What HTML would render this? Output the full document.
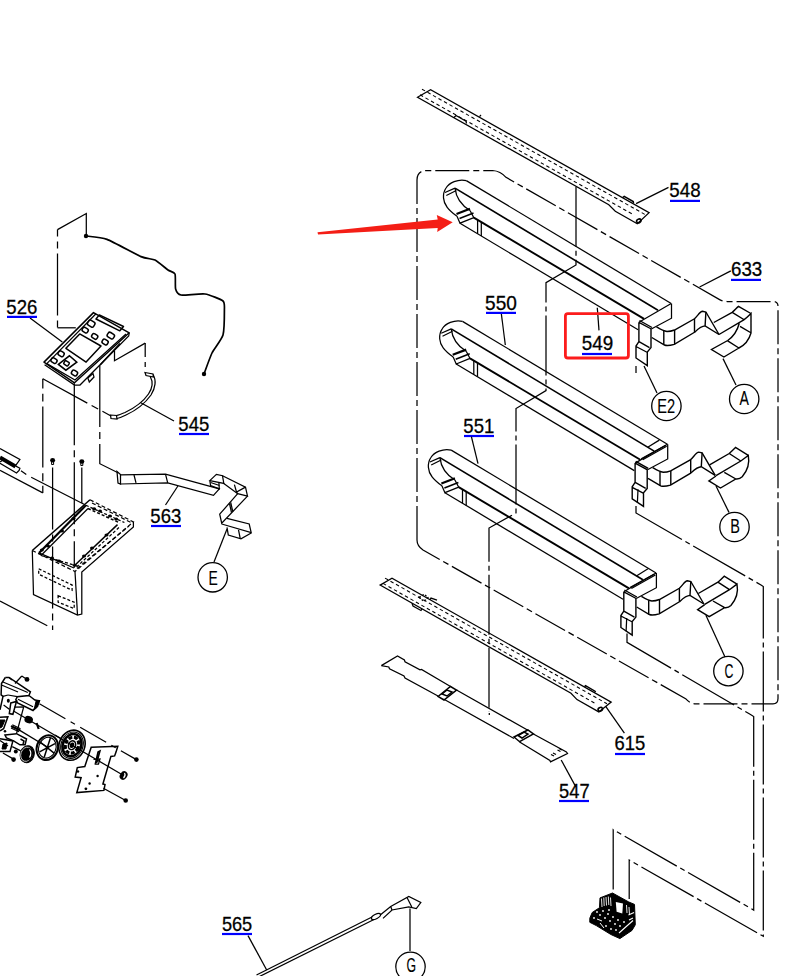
<!DOCTYPE html>
<html><head><meta charset="utf-8"><style>
html,body{margin:0;padding:0;background:#fff;width:799px;height:976px;overflow:hidden}
svg{display:block}
.t{fill:none;stroke:#000;stroke-width:1.25}
.t2{fill:none;stroke:#000;stroke-width:1.5}
.t3{fill:none;stroke:#000;stroke-width:2.2}
.w{fill:none;stroke:#000;stroke-width:1.7;stroke-linejoin:round}
.cb{fill:none;stroke:#000;stroke-width:1.4}
.fillk{fill:#000;stroke:#000;stroke-width:1}
.fillw{fill:#fff;stroke:none}
.dsh{fill:none;stroke:#000;stroke-width:1.05;stroke-dasharray:3.5 2.8}
.w1{fill:none;stroke:#fff;stroke-width:1.2}
.lb{font-family:"Liberation Sans",sans-serif;font-size:20.6px;fill:#000;stroke:#000;stroke-width:0.3}
.cl{font-family:"Liberation Sans",sans-serif;font-size:17.5px;fill:#000;stroke:#000;stroke-width:0.1}
</style></head><body>
<svg width="799" height="976" viewBox="0 0 799 976">
<rect width="799" height="976" fill="#fff"/>
<path d="M86.3,236 V213.5 L57.5,229.6" class="t" />
<path d="M57.5,229.6 V327.8" class="t" stroke-dasharray="7 5 7 5 62 5 7 5"/>
<path d="M57.5,327.8 H75.8" class="t" />
<path d="M86,236 C88.1,236.3 101.5,237.3 107,239.4 C112.5,241.5 136.2,254.5 141,256.6 C145.8,258.7 152.3,258.7 155,260 C157.7,261.3 166.0,268.6 168,270 C170.0,271.4 174.2,272.1 175,274 C175.8,275.9 175.0,286.9 175.6,289 C176.2,291.1 178.1,294.5 181,295 C183.9,295.5 200.8,293.4 205,294 C209.2,294.6 221.1,299.4 223,301 C224.9,302.6 224.4,306.6 224.4,310 C224.4,313.4 224.2,330.7 223,335 C221.8,339.3 213.9,349.1 212,353 C210.1,356.9 204.8,371.9 204,374" class="w" />
<circle cx="86" cy="236" r="2.2" fill="#000"/><circle cx="204" cy="374" r="2.2" fill="#000"/>
<path d="M93.5,312.6 L44,362.1 L74.5,382.8 L129.2,332.8 Z" class="t2" stroke-linejoin="round"/>
<path d="M44.6,364.8 L74.5,385 L80,385 L128.7,336 L129.2,332.8" class="t" />
<path d="M96,313.8 L46.8,363.6" class="t" />
<path d="M46.8,363.6 L75,380 L126,334" class="t" />
<path d="M99.3,314.9 L123.5,326.5 L119.8,330.8 L96,319 Z" class="t2" stroke-linejoin="round"/>
<path d="M79.7,333.9 L65.9,348.3 L86.1,362.1 L101,346 Z" class="t2" stroke-linejoin="round"/>
<rect x="87.7" y="320.8" width="7" height="5.6" rx="1.8" class="t2" transform="rotate(32 91.2 323.6)"/>
<rect x="82.2" y="327.8" width="6" height="4.6" rx="1.8" class="t2" transform="rotate(32 85.2 330.1)"/>
<rect x="91.7" y="334.09999999999997" width="6" height="4.6" rx="1.8" class="t2" transform="rotate(32 94.7 336.4)"/>
<rect x="107.3" y="333.0" width="7" height="5.2" rx="1.8" class="t2" transform="rotate(32 110.8 335.6)"/>
<rect x="102.1" y="339.7" width="6" height="4.6" rx="1.8" class="t2" transform="rotate(32 105.1 342)"/>
<rect x="58.1" y="351.5" width="6" height="4.6" rx="1.8" class="t2" transform="rotate(32 61.1 353.8)"/>
<rect x="51.0" y="358.3" width="6" height="4.6" rx="1.8" class="t2" transform="rotate(32 54 360.6)"/>
<rect x="71.5" y="370.7" width="6" height="4.6" rx="1.8" class="t2" transform="rotate(32 74.5 373)"/>
<path d="M58.4,364.4 L69.4,355.8 L76.8,362.1 L65.9,370.2 Z" class="t2" />
<rect x="64" y="361.3" width="5" height="4" rx="1" class="t2" transform="rotate(32 66.5 363.3)"/>
<path d="M100.6,364.6 L120,343.5" class="t2" />
<path d="M87.8,378 L93,373.6 L94,377 L89.3,382 Z" class="t" />
<path d="M30,318 L62.3,342" class="t" />
<text x="6.32" y="313.8" textLength="30.98" lengthAdjust="spacingAndGlyphs" class="lb">526</text>
<rect x="7.0" y="315.8" width="30.0" height="2.2" fill="#0000ff"/>
<path d="M74.3,383.3 V567.7" class="t" stroke-dasharray="62 5 7 5"/>
<path d="M99.8,365 V463.7 L118,472.7" class="t" stroke-dasharray="62 5 7 5"/>
<path d="M42.8,378.8 V492.9" class="t" stroke-dasharray="9.8 5.1 7.9 5 61 5.7 7.9 4.6 12"/>
<path d="M42.8,492.9 L0,470.4" class="t" />
<path d="M42.8,378.8 L111,416" class="t" stroke-dasharray="50.7 4.9 7.4 4.9 40"/>
<path d="M114.5,351 V360.7 L145.2,343.1" class="t" />
<path d="M145.2,343.1 V372" class="t" stroke-dasharray="14 5 5 5"/>
<path d="M153,374.5 C156.5,380 155.5,388 151,395 C146,402 137,410 126,415 C122,417 119.5,418 117,418.5" class="t" />
<path d="M150.3,376.8 C153,381.5 152.5,388 148.5,394 C144,400.5 135.5,407.5 125,412.5 C121.5,414 119,415 116.5,415.5" class="t" />
<path d="M145,372.5 L153,374 L153.5,377 L146,375.5 Z" class="t" />
<path d="M110.5,415 L116.5,415.5 L117,419 L111,418.5 Z" class="t" />
<path d="M174,421 L140.8,402.7" class="t" />
<text x="178.37" y="431.0" textLength="30.92" lengthAdjust="spacingAndGlyphs" class="lb">545</text>
<rect x="179.0" y="432.9" width="30.0" height="2.2" fill="#0000ff"/>
<path d="M117,471.5 L120.5,474.5 V484 L118,483 Z" class="t" />
<path d="M120.4,474.9 L165.5,474.2 L219.3,488.8 L213.5,495.3 L167.7,482.8 L120.4,484" class="t" />
<path d="M165.5,474.2 L167.7,482.8 M134,475 L136,482.8" class="t" />
<path d="M209.8,480.6 L216.4,474.4 L222.5,475.7 L223.8,483.4 Z M209.8,480.6 L210.6,485.5 L219.3,488.8 L218.9,483" class="t" />
<path d="M210.6,482.5 L219.5,485.5" class="t" />
<path d="M222.5,475.7 L245.5,487.1 L247.5,496.1 L237.7,493.7 L223.8,483.4" class="t" />
<path d="M234.4,484.7 L236.5,492 L245.5,487.1 M236.5,492 L237.7,493.7" class="t" />
<path d="M237.7,493.7 L219.7,514.2 L221.7,523.2 L247.5,496.1" class="t" />
<path d="M230.7,502.3 L232.8,511.7 M229.5,503.5 L231.5,512.5" class="t" />
<path d="M227,518.3 L249.2,524 L251.2,532.6 L221.7,524" class="t" />
<path d="M227,527.3 L228.3,535.1 L241,538.8 L251.2,533 M238.5,529.8 L240.2,538.4" class="t" />
<path d="M165.5,505 L177.9,486" class="t" />
<text x="150.37" y="522.8" textLength="30.92" lengthAdjust="spacingAndGlyphs" class="lb">563</text>
<rect x="151.0" y="524.9" width="30.0" height="2.2" fill="#0000ff"/>
<path d="M214,562 L227,529" class="t" />
<circle cx="212.7" cy="577.3" r="14.7" class="t" style="stroke-width:1.3"/>
<text x="208.49" y="584.7" textLength="9.31" lengthAdjust="spacingAndGlyphs" class="cl" style="font-size:20.8px">E</text>
<path d="M32.3,550.5 L90,499.8" class="t2" />
<path d="M90,499.8 L133.4,521.9 L75,571.5 L32.3,550.5" class="t" stroke-dasharray="4 2.5"/>
<path d="M92,503 L131,522.5" class="t" stroke-dasharray="4 2.5"/>
<path d="M77,568.5 L129,526" class="t" stroke-dasharray="4 2.5"/>
<path d="M39,552.9 L85.9,505.3" class="t3" />
<path d="M41,555.5 L88,508.5" class="t" />
<path d="M85.9,505.3 L124.4,522.5" class="t" stroke-dasharray="3 2"/>
<path d="M88,508.5 L120,523" class="t2" stroke-dasharray="3 2"/>
<path d="M74.8,565.2 L117.5,524.6" class="t2" />
<path d="M76.5,567 L120,526.5" class="t" stroke-dasharray="3 2"/>
<path d="M41,555.5 L74.8,565.2" class="t" stroke-dasharray="3 2"/>
<path d="M39,552.9 L74,568" class="t" />
<ellipse cx="41.8" cy="550" rx="2" ry="1.5" fill="#000"/>
<ellipse cx="73.5" cy="518.4" rx="2" ry="1.5" fill="#000"/>
<ellipse cx="94.1" cy="508.8" rx="2" ry="1.5" fill="#000"/>
<ellipse cx="116.2" cy="519.1" rx="2" ry="1.5" fill="#000"/>
<ellipse cx="106.5" cy="535" rx="2" ry="1.5" fill="#000"/>
<ellipse cx="74.8" cy="565.2" rx="2" ry="1.5" fill="#000"/>
<ellipse cx="48" cy="546" rx="2" ry="1.5" fill="#000"/>
<ellipse cx="62" cy="531" rx="2" ry="1.5" fill="#000"/>
<ellipse cx="100" cy="511" rx="2" ry="1.5" fill="#000"/>
<ellipse cx="110" cy="516" rx="2" ry="1.5" fill="#000"/>
<ellipse cx="92" cy="548" rx="2" ry="1.5" fill="#000"/>
<ellipse cx="84" cy="556" rx="2" ry="1.5" fill="#000"/>
<ellipse cx="59" cy="561" rx="2" ry="1.5" fill="#000"/>
<ellipse cx="52" cy="558" rx="2" ry="1.5" fill="#000"/>
<path d="M32.3,550.5 L33.5,594.6 L77.5,615 L81.8,614 L81.8,572 L133.4,527 V522" class="t" />
<path d="M75,571.5 L77.5,615" class="t" />
<path d="M38.7,568.8 L72.1,585 V590.3 L38.7,574.2 Z M58.1,595.7 L74.2,602.2 V608.6 L58.1,602.2 Z" class="t" stroke-dasharray="3 2"/>
<ellipse cx="52.6" cy="460.3" rx="2.5" ry="2.2" fill="#000"/><ellipse cx="81.8" cy="461.5" rx="2.5" ry="2.2" fill="#000"/>
<path d="M51.6,461 V464.5 H53.6 V461 M80.8,462 V465.5 H82.8 V462" class="t" style="stroke-width:1"/>
<path d="M52.6,467.4 V630" class="t" stroke-dasharray="62 5 7 5"/>
<path d="M81.8,467.5 V503" class="t" />
<path d="M0,448.6 L19.9,459.5 L15.4,465.9 M15.4,465.9 L19.9,468.2 L19.1,470.4 L16.5,473 L0,463.3" class="t" />
<path d="M0,457.5 L15.5,466.5" class="t" style="stroke-width:4"/>
<path d="M0,462 L3,460" class="t" />
<path d="M21,470.8 L26.3,474.5 M31.2,477.2 L84,504.2" class="t" />
<path d="M0,601 L47.3,625.8" class="t" />
<path d="M5.3,677.5 L9,677.5 L30.4,691.8 L28.9,695.5 L17.3,696.7 L15.8,699.7 L17.6,703 L33,710.5 L36.8,706 L39.4,700.8 L34.9,700 L28.9,695.5" class="t2" />
<path d="M5.3,677.5 L1.5,683.5 L1.1,694.8 L3,696.3 L0,709.8" class="t2" />
<path d="M3,682 L27.8,692.5 M1.5,685 L18,692 M18,699.3 L33,706.8 M8,695 L17.3,696.7" class="t" />
<path d="M9,677.5 L12,680 M3,696.3 L8,695" class="t" />
<ellipse cx="8.3" cy="700.8" rx="1.5" ry="2" fill="#000"/>
<path d="M21.8,676 L15,683.5 M21.8,676 L27,679.4" class="t" />
<circle cx="27" cy="679.4" r="2.4" fill="#000"/>
<path d="M36.2,700.5 L39.6,700.6 L37.6,707 L34,710 Z" class="fillk" />
<path d="M10.8,702.9 L16.5,701.4 L12.9,714.3 L9.3,713.6 Z" class="t2" />
<path d="M14.3,707.2 L23.7,706.8 L16.5,733.7" class="t" />
<path d="M3.6,705 L9.3,709.3 M13.5,711 L123.6,775.5" class="t" />
<path d="M39.4,703.8 L136.4,759.6" class="t" stroke-dasharray="30 6 5 6"/>
<ellipse cx="28.7" cy="719.7" rx="4.3" ry="3.6" fill="#000" transform="rotate(20 28.7 719.7)"/>
<path d="M36.6,723 L38.7,729" class="t3" />
<path d="M0,717.2 L7.9,716.8 L3.6,728.7 L0,730.8" class="t2" />
<path d="M0,720 L5,720 L2,727 L0,728 Z" class="fillk" />
<circle cx="5" cy="731.2" r="1.3" fill="#000"/>
<path d="M11.8,726.5 L19.4,730.1" class="t3" stroke-linecap="round"/>
<path d="M12.3,724.8 L20.5,728.8 M11,728 L19,731.8" class="t" />
<path d="M19.4,730.1 L47.3,747" class="t" />
<path d="M5,735.1 L16.5,733.7 L26.5,739 L25.1,744.8 L20,744.8 L13.6,740.9 L6.5,738 Z" class="t2" />
<path d="M20.5,739 L24,741 L23,744" class="t2" />
<path d="M0,738.7 L12.9,740.9 L10,751.6 L0,751.6" class="t2" />
<path d="M0,740.5 L8,746 M12.2,746.6 L20.8,750.9 M2.9,753 L13.6,759.1" class="t" />
<path d="M3,744 L7,743 L6,749 L2,749 Z" class="fillk" />
<circle cx="15.8" cy="751.6" r="2" fill="#000"/><circle cx="13.6" cy="759.6" r="2.3" fill="#000"/>
<ellipse cx="27.2" cy="754.2" rx="7" ry="8.6" fill="#000" stroke="#000" stroke-width="1" transform="rotate(18 27.2 754.2)"/>
<ellipse cx="26.5" cy="754.5" rx="5.6" ry="7.2" fill="none" stroke="#fff" stroke-width="0.7" transform="rotate(18 27.2 754.2)"/>
<ellipse cx="27.8" cy="753.8" rx="5" ry="6.4" fill="#000" transform="rotate(18 27.2 754.2)"/>
<path d="M29.5,749.5 C31,751.5 31,755 29.5,757.5" class="w1" />
<ellipse cx="47.3" cy="747.7" rx="10.5" ry="12.6" fill="none" stroke="#000" stroke-width="2" transform="rotate(20 47.3 747.7)"/>
<ellipse cx="47.3" cy="747.7" rx="8.6" ry="10.6" fill="none" stroke="#000" stroke-width="1.1" transform="rotate(20 47.3 747.7)"/>
<path d="M50.5,737.8 L44.1,757.6 M40.2,742 L54.4,753.4 M39.6,751.8 L55,743.6" class="t2" />
<circle cx="47.3" cy="747.7" r="1.5" fill="#000"/>
<ellipse cx="72" cy="745.2" rx="12.8" ry="15.4" fill="none" stroke="#000" stroke-width="1.6" transform="rotate(22 72 745.2)"/>
<ellipse cx="72" cy="745.2" rx="11" ry="13.5" fill="none" stroke="#000" stroke-width="1" transform="rotate(22 72 745.2)"/>
<ellipse cx="72" cy="745.2" rx="9.2" ry="11.4" fill="none" stroke="#000" stroke-width="2.6" transform="rotate(22 72 745.2)"/>
<ellipse cx="72" cy="745.2" rx="6.5" ry="8.2" fill="none" stroke="#000" stroke-width="3.2" stroke-dasharray="4 1.5" transform="rotate(22 72 745.2)"/>
<ellipse cx="72" cy="745.2" rx="3.5" ry="4.5" fill="none" stroke="#000" stroke-width="1.5" transform="rotate(22 72 745.2)"/>
<ellipse cx="72" cy="745.2" rx="2.2" ry="2.8" fill="#000" transform="rotate(22 72 745.2)"/>
<path d="M91.2,747.3 L117.8,746.3 L116.2,751.6 L114.6,755.9 L110.9,756.4 L102.9,784 L105,784.6 L103.9,790.4 L76.8,792.6 L81.1,777.7 L75.2,777.1 L77.3,767.6 L84.8,766.5 Z" class="t2" />
<path d="M98,752 L100,751 L97,762 L95.5,763 Z" class="t2" />
<path d="M93.5,759.5 L100,759 L98.5,764 L95,764" class="t" />
<circle cx="97.6" cy="776" r="1.2" fill="#000"/><circle cx="89.6" cy="783.5" r="1.2" fill="#000"/><circle cx="85.9" cy="788.8" r="1.4" fill="#000"/><circle cx="78" cy="771.5" r="1.2" fill="#000"/>
<circle cx="136.4" cy="759.6" r="2.3" fill="#000"/><circle cx="125.7" cy="800.5" r="2.3" fill="#000"/>
<ellipse cx="123.6" cy="775.5" rx="3.6" ry="4.5" fill="#000" transform="rotate(35 123.6 775.5)"/>
<path d="M124.5,773 C125.5,774.5 125,776.5 123.5,778" class="w1" stroke-width="0.8"/>
<path d="M103.4,788.3 L125.7,800.5" class="t" />
<path d="M55,735.1 L61,738.5" class="t" />
<path d="M256.5,975 L372,917" class="t" />
<path d="M258.5,977 L374,919.5" class="t" />
<ellipse cx="376" cy="916.5" rx="5" ry="2.2" class="t" transform="rotate(-28 376 916.5)"/>
<path d="M380.2,915 L390.7,906.5 L408.8,896.5 L420.8,902.5 L416.3,908.5 L408.8,907 L392,910 L383,918.4" class="t" />
<path d="M407,897.5 L411.8,907 M392,910 L390.7,906.5" class="t" />
<path d="M248,935.6 L266.7,970" class="t" />
<text x="221.89" y="930.8" textLength="30.38" lengthAdjust="spacingAndGlyphs" class="lb">565</text>
<rect x="222.0" y="932.9" width="30.0" height="2.2" fill="#0000ff"/>
<path d="M410,908.5 V951" class="t" />
<circle cx="410.5" cy="966.8" r="14.7" class="t" style="stroke-width:1.3"/>
<text x="406.38" y="971.8" textLength="9.55" lengthAdjust="spacingAndGlyphs" class="cl" style="font-size:19.7px">G</text>
<path d="M417.5,97.2 L430.6,89.8 L649.1,212.6 L637.3,223.7 L615.3,211.3 L608.8,204.7 Z" class="t" />
<path d="M422,89.2 L645,214.5" class="dsh" />
<path d="M420,94.8 L634,215.0" class="dsh" />
<ellipse cx="638.8" cy="220.9" rx="2.3" ry="1.8" fill="none" stroke="#000" stroke-width="1.6" transform="rotate(-30 638.8 220.9)"/>
<path d="M622.7,197.5 l1.5,-1.2 l9,5.2 l0.3,1.6" class="t2" />
<path d="M454,117.5 L456,115.5 L466,121.2 L466.5,123.5 M479.5,116.6 L481,115" class="t" />
<path d="M668.5,187.4 L636.1,203.6" class="t" />
<text x="669.36" y="196.8" textLength="31.25" lengthAdjust="spacingAndGlyphs" class="lb">548</text>
<rect x="670.0" y="199.8" width="30.0" height="2.2" fill="#0000ff"/>
<path d="M417,540 V180 Q417,170.5 427,170.5 H492.6 Q500.5,171 506,177.3 L719.6,299.6 Q723,301.5 727,301.5 H773 Q778,301.5 778,306.5 V698.5 Q778,703.8 773,703.8 H694.6 Q690,703.5 685.6,698.7 L423,550 Q417,546 417,540 Z" class="t" stroke-dasharray="34 4 6 4"/>
<path d="M730.8,270.9 L699.6,287" class="t" />
<text x="731.06" y="275.8" textLength="31.25" lengthAdjust="spacingAndGlyphs" class="lb">633</text>
<rect x="731.0" y="278.8" width="30.0" height="2.2" fill="#0000ff"/>
<path d="M576,186.8 V265 L546,282.6 V390.6 L516,408.5 V513 L489,528 V712" class="t" stroke-dasharray="60 4 5 4"/>
<g transform="translate(0 0)">
<path d="M466.3,180.6 L671.2,303.5" class="t" />
<path d="M466.3,180.6 C458,178.5 449,183 446,188 C442,194 443,202 447,207 C450,211 454,214 457,216.3" class="t" />
<path d="M445,192.5 L455,188.1 M446.3,195.5 L456.3,190.5" class="t" />
<path d="M455,188.1 L658,310.3" class="t" style="stroke-width:1.6"/>
<path d="M455,188.1 C456,197 461,205 470,210.5" class="t" />
<path d="M456.5,214 L470,208.8" class="t3" />
<path d="M459.5,218.5 L473.5,213" class="t2" />
<path d="M457,216.3 L460,223.2 L473.8,217.6 L470,210.5" class="t" />
<path d="M473.8,217.6 L644.1,318.9" class="t" style="stroke-width:1.9"/>
<path d="M460,223.2 L638.1,329.8" class="t" />
<path d="M477.6,220 V233.8 M481.3,222.5 V236" class="t" />
<path d="M671.2,303.5 L638.9,322.3 M671.5,303.5 V318.2 L651.3,329" class="t" />
<path d="M638.9,322.3 L651.3,329 M639.5,320.5 L652,327.5 M638.9,322.3 V341.6 L636,346 V358 L647.3,365.6 V352 L651,347.6 V329 M639,341.6 L649.5,347.6 M636,346.5 L647.5,352.5" class="cb" />
<path d="M656.5,326.8 C660,329 663,331 667,331.5 C670,331.5 672,331 674.5,330 L694.5,318.8 C698,315.5 700,311.5 702.5,311.3 L705.9,312 L719,334.5" class="cb" />
<path d="M651.8,337.5 L664.5,345 C667,346 670,345.5 674.3,344.3 L694.5,332.3 C698,329 701,326 705.1,325.9 L719,334.5" class="cb" />
<path d="M663.8,330.8 V345 M674.6,330 V344.3 M694.5,318.8 V332.3 M705.9,312 L705.1,325.9" class="cb" />
<path d="M713.8,322.5 L732.2,312.4 C735,310 736.5,308 738.5,306.4 L750.9,313.5 M732.2,312.4 L743.8,319.5 M719,334.5 L743.8,319.9 C746.5,318 749,315.5 751,313.5 V333 C749,340 745,345 738.9,348 L723.9,357 L711.5,349.5 L727.7,340.5 C733,337 737.5,330 739.3,323.3 M740,326.3 L751.3,333 M727.7,340.9 L738.9,348" class="cb" />
</g>
<g transform="translate(-3.8 140.8)">
<path d="M466.3,180.6 L671.2,303.5" class="t" />
<path d="M466.3,180.6 C458,178.5 449,183 446,188 C442,194 443,202 447,207 C450,211 454,214 457,216.3" class="t" />
<path d="M445,192.5 L455,188.1 M446.3,195.5 L456.3,190.5" class="t" />
<path d="M455,188.1 L658,310.3" class="t" style="stroke-width:1.6"/>
<path d="M455,188.1 C456,197 461,205 470,210.5" class="t" />
<path d="M456.5,214 L470,208.8" class="t3" />
<path d="M459.5,218.5 L473.5,213" class="t2" />
<path d="M457,216.3 L460,223.2 L473.8,217.6 L470,210.5" class="t" />
<path d="M473.8,217.6 L644.1,318.9" class="t" style="stroke-width:1.9"/>
<path d="M460,223.2 L638.1,329.8" class="t" />
<path d="M477.6,220 V233.8 M481.3,222.5 V236" class="t" />
<path d="M671.2,303.5 L638.9,322.3 M671.5,303.5 V318.2 L651.3,329" class="t" />
<path d="M638.9,322.3 L651.3,329 M639.5,320.5 L652,327.5 M638.9,322.3 V341.6 L636,346 V358 L647.3,365.6 V352 L651,347.6 V329 M639,341.6 L649.5,347.6 M636,346.5 L647.5,352.5" class="cb" />
<path d="M656.5,326.8 C660,329 663,331 667,331.5 C670,331.5 672,331 674.5,330 L694.5,318.8 C698,315.5 700,311.5 702.5,311.3 L705.9,312 L719,334.5" class="cb" />
<path d="M651.8,337.5 L664.5,345 C667,346 670,345.5 674.3,344.3 L694.5,332.3 C698,329 701,326 705.1,325.9 L719,334.5" class="cb" />
<path d="M663.8,330.8 V345 M674.6,330 V344.3 M694.5,318.8 V332.3 M705.9,312 L705.1,325.9" class="cb" />
<path d="M713.4,324 L733,312.7 C735.5,310.5 737.5,308.5 739.3,306.7 L752.1,314.6 M733,312.7 L744.6,320.2 M719.8,334.9 L744.6,320.2 L752.1,314.6 C753.5,322 752,329 746,336 C744,338 742,338.5 739.7,338.2 L724.3,347.2 L712.7,340.1 L719.8,335.2 M728.1,331.5 L739.7,338.2" class="cb" />
<path d="M651.5,306.5 L663.1,299.3" class="t" />
<path d="M645,318 L669.5,304.5 M646.5,319 L670.5,305.5" class="t" stroke-width="0.8"/>
<path d="M641.8,348.5 L641.2,361.8" class="t" />
</g>
<g transform="translate(-15.1 269.5)">
<path d="M466.3,180.6 L671.2,303.5" class="t" />
<path d="M466.3,180.6 C458,178.5 449,183 446,188 C442,194 443,202 447,207 C450,211 454,214 457,216.3" class="t" />
<path d="M445,192.5 L455,188.1 M446.3,195.5 L456.3,190.5" class="t" />
<path d="M455,188.1 L658,310.3" class="t" style="stroke-width:1.6"/>
<path d="M455,188.1 C456,197 461,205 470,210.5" class="t" />
<path d="M456.5,214 L470,208.8" class="t3" />
<path d="M459.5,218.5 L473.5,213" class="t2" />
<path d="M457,216.3 L460,223.2 L473.8,217.6 L470,210.5" class="t" />
<path d="M473.8,217.6 L644.1,318.9" class="t" style="stroke-width:1.9"/>
<path d="M460,223.2 L638.1,329.8" class="t" />
<path d="M477.6,220 V233.8 M481.3,222.5 V236" class="t" />
<path d="M671.2,303.5 L638.9,322.3 M671.5,303.5 V318.2 L651.3,329" class="t" />
<path d="M638.9,322.3 L651.3,329 M639.5,320.5 L652,327.5 M638.9,322.3 V341.6 L636,346 V358 L647.3,365.6 V352 L651,347.6 V329 M639,341.6 L649.5,347.6 M636,346.5 L647.5,352.5" class="cb" />
<path d="M656.5,326.8 C660,329 663,331 667,331.5 C670,331.5 672,331 674.5,330 L694.5,318.8 C698,315.5 700,311.5 702.5,311.3 L705.9,312 L719,334.5" class="cb" />
<path d="M651.8,337.5 L664.5,345 C667,346 670,345.5 674.3,344.3 L694.5,332.3 C698,329 701,326 705.1,325.9 L719,334.5" class="cb" />
<path d="M663.8,330.8 V345 M674.6,330 V344.3 M694.5,318.8 V332.3 M705.9,312 L705.1,325.9" class="cb" />
<path d="M713.4,324 L733,312.7 C735.5,310.5 737.5,308.5 739.3,306.7 L752.1,314.6 M733,312.7 L744.6,320.2 M719.8,334.9 L744.6,320.2 L752.1,314.6 C753.5,322 752,329 746,336 C744,338 742,338.5 739.7,338.2 L724.3,347.2 L712.7,340.1 L719.8,335.2 M728.1,331.5 L739.7,338.2" class="cb" />
<path d="M651.5,306.5 L663.1,299.3" class="t" />
<path d="M645,318 L669.5,304.5 M646.5,319 L670.5,305.5" class="t" stroke-width="0.8"/>
<path d="M641.8,348.5 L641.2,361.8" class="t" />
</g>
<path d="M636,366 V373" class="t" />
<path d="M636,506 V513 L761,585 L763.3,586.5 V936.3 L629.2,860 V899" class="t" stroke-dasharray="60 4 5 4"/>
<path d="M627,633.4 V642.4 L750.5,714.5 L753.7,716.5 V910.1 L613.2,829.7 V892.2" class="t" stroke-dasharray="60 4 5 4"/>
<text x="485.05" y="309.8" textLength="31.78" lengthAdjust="spacingAndGlyphs" class="lb">550</text>
<rect x="486.0" y="311.8" width="30.0" height="2.2" fill="#0000ff"/>
<path d="M501.4,314 L505.3,345" class="t" />
<text x="581.86" y="350.0" textLength="31.46" lengthAdjust="spacingAndGlyphs" class="lb">549</text>
<rect x="582.0" y="352.9" width="30.0" height="2.2" fill="#0000ff"/>
<path d="M597.3,307.7 L599,330.4" class="t" />
<rect x="565.4" y="313.6" width="63" height="44.4" rx="2.5" fill="none" stroke="#fc1c1c" stroke-width="2.8"/>
<text x="463.37" y="432.8" textLength="30.92" lengthAdjust="spacingAndGlyphs" class="lb">551</text>
<rect x="464.0" y="434.9" width="30.0" height="2.2" fill="#0000ff"/>
<path d="M471.4,436.7 L478,463.7" class="t" />
<path d="M644,366 L657,393" class="t" />
<circle cx="666.4" cy="406" r="14.7" class="t" style="stroke-width:1.3"/>
<text x="657.16" y="412.9" textLength="17.91" lengthAdjust="spacingAndGlyphs" class="cl" style="font-size:19.7px">E2</text>
<path d="M723,358.6 L736,385" class="t" />
<circle cx="744.2" cy="399" r="14.7" class="t" style="stroke-width:1.3"/>
<text x="739.60" y="404.8" textLength="9.40" lengthAdjust="spacingAndGlyphs" class="cl" style="font-size:19.7px">A</text>
<path d="M716,486 L729,512.4" class="t" />
<circle cx="734.5" cy="527" r="14.7" class="t" style="stroke-width:1.3"/>
<text x="730.26" y="532.8" textLength="9.68" lengthAdjust="spacingAndGlyphs" class="cl" style="font-size:19.7px">B</text>
<path d="M705.9,615.3 L725,657" class="t" />
<circle cx="728.4" cy="671.1" r="14.7" class="t" style="stroke-width:1.3"/>
<text x="724.38" y="677.8" textLength="8.86" lengthAdjust="spacingAndGlyphs" class="cl" style="font-size:19.7px">C</text>
<polygon points="317.5,232.2 437.7,219.6 436.8,215 452.7,222.2 437.2,232 437.7,227.9 318,234.5" fill="#f41e16"/>
<path d="M380.1,585.1 L392,578.1 L611.2,702.1 L598.8,711.9 L577,699.6 L571,693.2 Z" class="t" />
<path d="M385,578.1 L607,703.8" class="dsh" />
<path d="M383,583.4 L596,703.9" class="dsh" />
<ellipse cx="600.3" cy="709.3" rx="2.3" ry="1.8" fill="none" stroke="#000" stroke-width="1.6" transform="rotate(-30 600.3 709.3)"/>
<path d="M584.5,686.7 l1,-1 l9.5,5.5 l0.5,1" class="t2" />
<path d="M412,603.2 L413,606.0 L421,610.5 L422,608.9" class="t" />
<path d="M419,597.4 l5,-3 l4,3 l-4,4 z" class="t" stroke-dasharray="2 1.5"/>
<path d="M430,599.6 l1,-1.5 l6,2" class="t" />
<path d="M605.7,706.3 L624.4,733.2" class="t" />
<text x="614.58" y="750.0" textLength="30.71" lengthAdjust="spacingAndGlyphs" class="lb">615</text>
<rect x="615.0" y="752.9" width="30.0" height="2.2" fill="#0000ff"/>
<path d="M381.3,665.6 L397.5,656 L404.4,660 L405,661.8 L420,669.8 L421.5,669.5 L450.5,686.5 M456.5,690 L527.9,730.3 M533.4,734 L566.4,752 L567.5,753.5 L550.5,761.8 L549.9,760.5 L519.6,742 M514,738.5 L443.5,699 M438,696 L405,678 L404,676 L389.5,668.8 L388.8,667 L381.3,665.6" class="t" />
<path d="M438,696.5 L450.5,686.5 L456.5,690 L444,700 Z M514,737 L527.9,730 L533.4,734 L519.6,741.7 Z" class="t2" />
<path d="M442,694 L447,690 L452,692 L447,696 Z M518,735.5 L524,732 L528,734 L522,738 Z" class="t2" />
<path d="M551,754.5 l3,1.5 M553,753 l3,1.5 M557.5,750 l3,1.5 M559,748.5 l3,1.5" class="t" />
<path d="M489.3,713 V715" class="t" />
<path d="M561.2,760 L575.7,786.6" class="t" />
<text x="559.09" y="798.0" textLength="30.49" lengthAdjust="spacingAndGlyphs" class="lb">547</text>
<rect x="559.0" y="799.9" width="30.0" height="2.2" fill="#0000ff"/>
<path d="M589.8,918.2 L592.2,912.5 L599.5,907.7 L600,897.9 L612.5,893 L628.8,902 L634.5,904.4 L635.3,924.8 L632,930.4 L619.9,938.6 L610.9,934.5 L596.3,925.6 L589.8,922.3 Z" class="fillk" />
<path d="M615.8,902 L623,903.6 L622.3,913.4 L616.6,911.7 Z" class="fillw" />
<path d="M601.5,898.5 L602,907 M603.8,897.5 L604.2,906 M606,897 L606.5,905.5 M608.3,896.5 L608.8,905 M610.5,897.5 L611,906" class="w1" style="stroke-width:0.9"/>
<path d="M626.5,905 L627,913 M629,907 L629.5,915" class="w1" style="stroke-width:0.9"/>
<path d="M619,933 L633,920.5 M628.5,915 L634,912.5 M629,920 L633,918" class="w1" style="stroke-width:1.1"/>
<path d="M600,923 L604,928 M597,919 L602,921" class="w1" style="stroke-width:1"/>
<circle cx="603" cy="911" r="0.9" fill="#fff"/>
<circle cx="608" cy="914" r="0.9" fill="#fff"/>
<circle cx="613" cy="917" r="0.9" fill="#fff"/>
<circle cx="618" cy="920" r="0.9" fill="#fff"/>
<circle cx="600" cy="915" r="0.9" fill="#fff"/>
<circle cx="605" cy="918" r="0.9" fill="#fff"/>
<circle cx="610" cy="921" r="0.9" fill="#fff"/>
<circle cx="615" cy="924" r="0.9" fill="#fff"/>
<circle cx="606" cy="926" r="0.9" fill="#fff"/>
<circle cx="611" cy="929" r="0.9" fill="#fff"/>
<circle cx="620" cy="926" r="0.9" fill="#fff"/>
<circle cx="594" cy="918" r="0.9" fill="#fff"/>
<circle cx="624" cy="922" r="0.9" fill="#fff"/>
<circle cx="616" cy="930" r="0.9" fill="#fff"/>
<circle cx="609" cy="910" r="0.9" fill="#fff"/>
<circle cx="597" cy="912" r="0.9" fill="#fff"/>
</svg>
</body></html>
